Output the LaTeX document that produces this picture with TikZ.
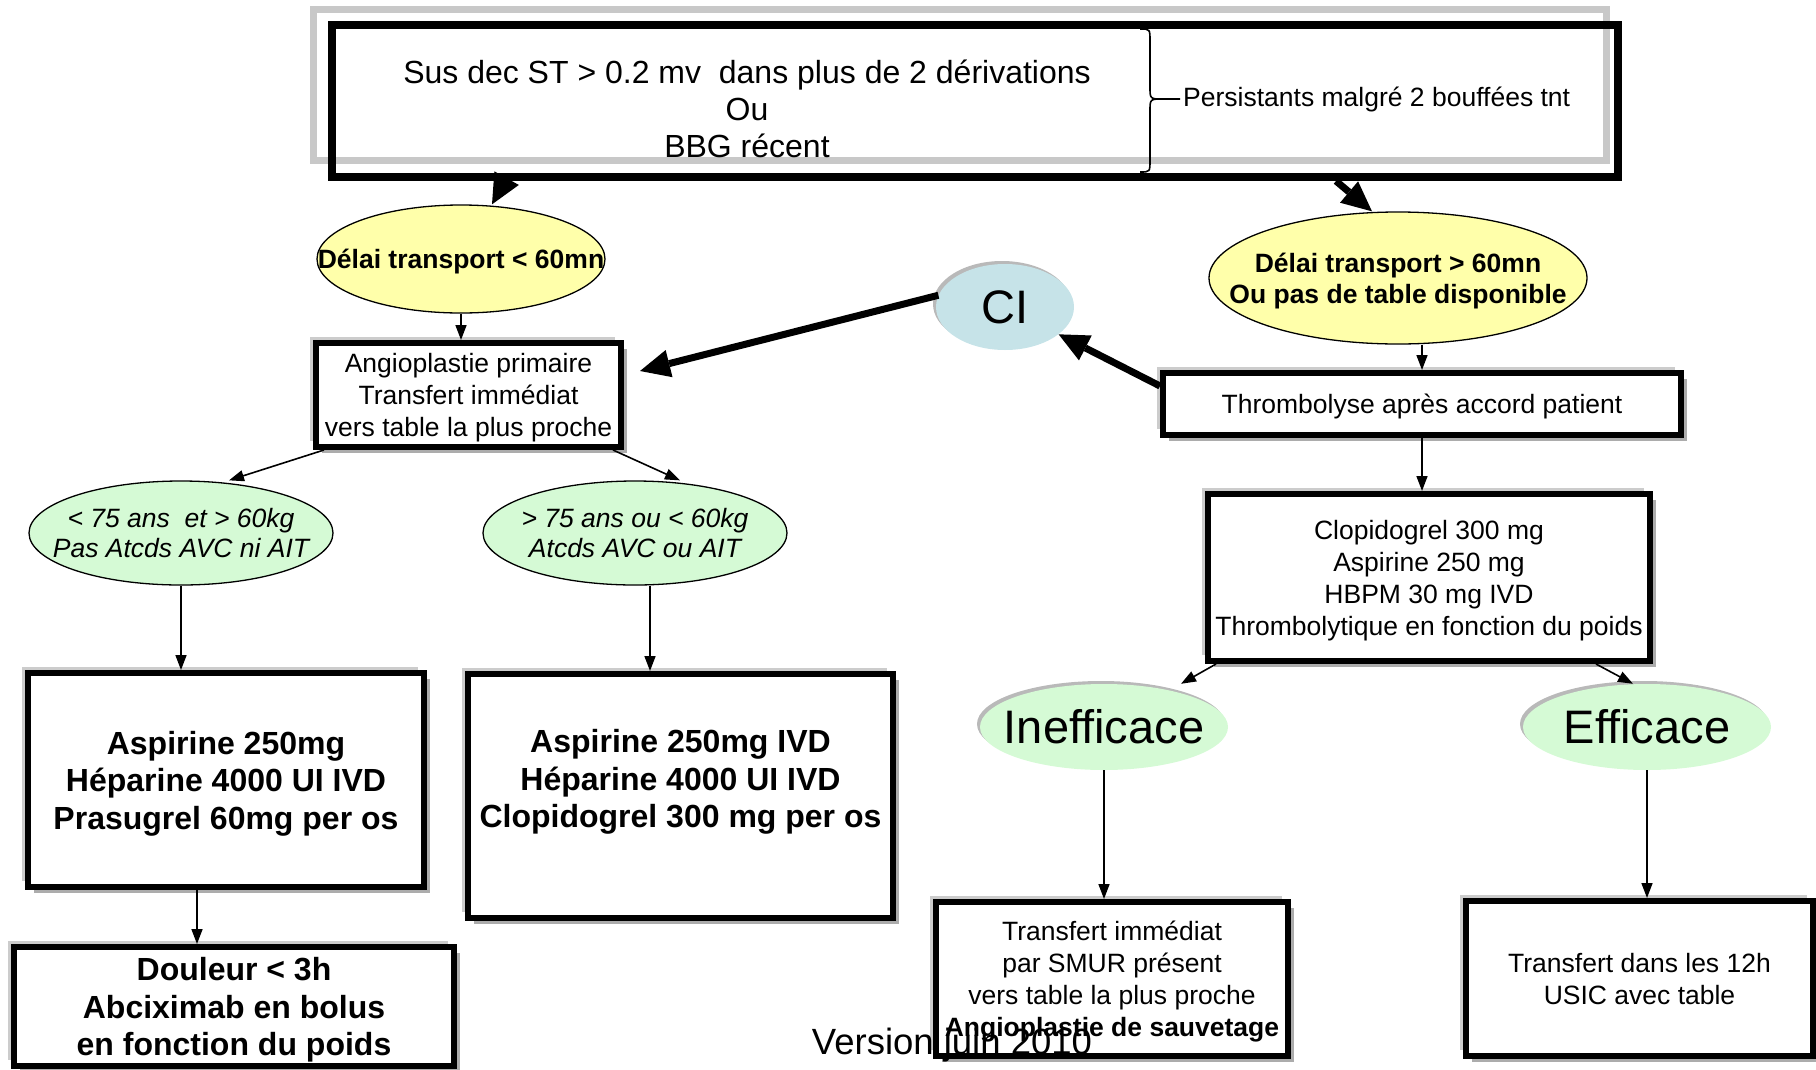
\documentclass[tikz,border=0pt]{standalone}
\usepackage{fontspec}
\setmainfont{Liberation Sans}
\usepackage{xcolor}
\definecolor{paleyellow}{RGB}{255, 255, 170}
\definecolor{palegreen}{RGB}{213, 250, 213}
\definecolor{paleblue}{RGB}{198, 227, 232}
\definecolor{framegray}{RGB}{200, 200, 200}
\usepackage{tikz}
\usetikzlibrary{arrows.meta, shapes.geometric, shadows}
\tikzset{
  box/.style = {
    draw,
    line width=6pt,
    fill=white,
    align=center,
    inner sep=2pt,
    text depth=0pt,
    font=\fontsize{26.5}{32}\selectfont,
    general shadow={shadow xshift=-6pt, shadow yshift=6pt, fill=gray!40},
    general shadow={shadow xshift=6pt, shadow yshift=-6pt, fill=gray!65}
  },
  bigbox/.style = {
    box,
    font=\fontsize{32}{37.5}\selectfont\bfseries
  },
  yellowoval/.style = {
    ellipse,
    draw,
    line width=1.3pt,
    fill=paleyellow,
    inner sep=0pt
  },
  greenoval/.style = {
    yellowoval,
    fill=palegreen
  },
  softoval/.style = {
    ellipse,
    inner sep=0pt,
    fill=palegreen,
    general shadow={shadow xshift=-3pt, shadow yshift=3pt, fill=gray!55}
  },
  ovalbold/.style = {
    font=\fontsize{26.5}{31}\selectfont\bfseries,
    align=center,
    yshift=-3pt
  },
  ovalital/.style = {
    font=\fontsize{26.5}{30}\selectfont\itshape,
    align=center
  },
  hugetxt/.style = {
    font=\fontsize{47}{50}\selectfont
  },
  arrow/.style = {
    -{Triangle[length=15pt, width=11pt]},
    line width=1.6pt
  },
  bigarrow/.style = {
    -{Triangle[length=30pt, width=28pt, line width=0pt]},
    line width=7pt
  },
}

\begin{document}
\begin{tikzpicture}[x=1pt, y=-1pt]
    \useasboundingbox (0,0) rectangle (1816,1069);
    \draw[framegray, line width=7pt] (313,9) rectangle (1606,160);
    \node[draw, line width=8pt, minimum width=1286pt, minimum height=152pt, inner sep=0pt] (top) at (975,101) {};
    \node[align=center, font=\fontsize{32}{37}\selectfont] (ecg) at (747,109) {Sus dec ST > 0.2 mv~ dans plus de 2 dérivations\\Ou\\BBG récent};
    % accolade
    \draw[line width=1.6pt] (1140,29) .. controls (1150,29) .. (1150,41) -- (1150,87) .. controls (1150,99) .. (1163,99) -- (1180,99);
    \draw[line width=1.6pt] (1140,172) .. controls (1150,172) .. (1150,160) -- (1150,111) .. controls (1150,99) .. (1163,99);
    \node[anchor=west, inner sep=0pt, font=\fontsize{26.5}{32}\selectfont] (persist) at (1183,99) {Persistants malgré 2 bouffées tnt};

    \node[yellowoval, minimum width=288pt, minimum height=108pt, label={[ovalbold]center:Délai transport < 60mn}] (short) at (461,259) {};
    \node[yellowoval, minimum width=378pt, minimum height=132pt, label={[ovalbold]center:Délai transport > 60mn\\Ou pas de table disponible}] (long) at (1398,278) {};
    \node[softoval, fill=paleblue, minimum width=138pt, minimum height=86pt, hugetxt] (ci) at (1005,307) {CI};

    \node[box, minimum width=305pt, minimum height=104pt] (angio) at (468.5,395) {Angioplastie primaire\\Transfert immédiat\\vers table la plus proche};
    \node[box, minimum width=518pt, minimum height=62pt] (thromb) at (1422,404) {Thrombolyse après accord patient};
    \node[box, minimum width=442pt, minimum height=167pt] (drugs) at (1429,577.5) {Clopidogrel 300 mg\\Aspirine 250 mg\\HBPM 30 mg IVD\\Thrombolytique en fonction du poids};

    \node[greenoval, minimum width=304pt, minimum height=104pt, label={[ovalital]center:< 75 ans~ et > 60kg\\Pas Atcds AVC ni AIT}] (young) at (181,533) {};
    \node[greenoval, minimum width=304pt, minimum height=104pt, label={[ovalital]center:> 75 ans ou < 60kg\\Atcds AVC ou AIT}] (old) at (635,533) {};

    \node[bigbox, minimum width=396pt, minimum height=214pt] (prasu) at (226,780) {Aspirine 250mg\\Héparine 4000 UI IVD\\Prasugrel 60mg per os};
    \node[bigbox, minimum width=425pt, minimum height=244pt, label={[font=\fontsize{32}{37.5}\selectfont\bfseries, align=center, yshift=14pt]center:Aspirine 250mg IVD\\Héparine 4000 UI IVD\\Clopidogrel 300 mg per os}] (clopi) at (680.5,796) {};
    \node[bigbox, minimum width=440pt, minimum height=119pt] (abcix) at (234,1006.5) {Douleur < 3h\\Abciximab en bolus\\en fonction du poids};

    \node[softoval, minimum width=248pt, minimum height=86pt, label={[hugetxt]center:Inefficace}] (fail) at (1104,727) {};
    \node[softoval, minimum width=248pt, minimum height=86pt, label={[hugetxt]center:Efficace}] (success) at (1647,727) {};

    \node[box, minimum width=352pt, minimum height=154pt] (rescue) at (1112,979) {Transfert immédiat\\par SMUR présent\\vers table la plus proche\\\textbf{Angioplastie de sauvetage}};
    \node[box, minimum width=347pt, minimum height=155pt] (usic) at (1639.5,978.5) {Transfert dans les 12h\\USIC avec table};

    \draw[bigarrow] ([xshift=177pt]top.south west) -- ([xshift=31pt]short.north);
    \draw[bigarrow] ([xshift=-286pt]top.south east) -- ([xshift=-26pt]long.north);
    \draw[bigarrow] (ci.170) -- ([shift={(16pt,24pt)}]angio.east);
    \draw[bigarrow] ([yshift=18pt]thromb.west) -- (ci);

    \coordinate (oldfoot) at ([xshift=15pt]old.south);
    \coordinate (prasufoot) at ([xshift=-29pt]prasu.south);
    \draw[arrow] (short.south) -- (short.south |- angio.north);
    \draw[arrow] (long.south -| thromb.north) -- (thromb.north);
    \draw[arrow] (thromb.south) -- (thromb.south |- drugs.north);
    \draw[arrow] ([xshift=11pt]angio.south west) -- ([xshift=48pt]young.north);
    \draw[arrow] ([xshift=-11pt]angio.south east) -- ([xshift=45pt]old.north);
    \draw[arrow] (young.south) -- (young.south |- prasu.north);
    \draw[arrow] (oldfoot) -- (oldfoot |- clopi.north);
    \draw[arrow] (prasufoot) -- (prasufoot |- abcix.north);
    \draw[arrow] ([xshift=11pt]drugs.south west) -- ([xshift=77pt]fail.north);
    \draw[arrow] ([xshift=-57pt]drugs.south east) -- ([xshift=-14pt]success.north);
    \draw[arrow] (fail.south) -- (fail.south |- rescue.north);
    \draw[arrow] (success.south) -- (success.south |- usic.north);

    \node[font=\fontsize{36.5}{40}\selectfont] (version) at (952,1045) {Version juin 2010};
\end{tikzpicture}
\end{document}
